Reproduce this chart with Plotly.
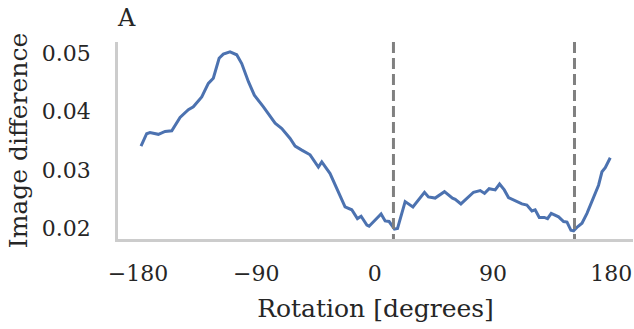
import plotly.graph_objects as go

rotation = [-177.7, -173.4, -170.9, -164.5, -159.4, -154.3, -148.0, -141.7, -137.9, -131.5,
            -126.5, -122.7, -118.3, -115.1, -110.0, -104.9, -101.1, -96.0, -91.5, -89.6,
            -84.6, -75.7, -70.6, -64.3, -60.5, -55.4, -49.1, -42.8, -40.2, -33.9,
            -27.5, -22.5, -17.4, -13.1, -10.3, -5.9, -4.2, 4.9, 8.0, 11.0,
            15.1, 17.4, 23.2, 29.1, 37.9, 40.9, 46.0, 53.1, 59.2, 61.3,
            65.6, 75.2, 80.3, 83.6, 87.1, 91.7, 95.0, 98.6, 101.8, 106.9,
            112.0, 115.8, 119.6, 122.1, 125.2, 129.0, 131.5, 134.3, 139.9, 143.7,
            146.3, 149.3, 151.3, 154.3, 157.7, 161.5, 166.5, 170.3, 172.9, 175.4, 179.2]
difference = [0.0341, 0.0362, 0.0364, 0.0361, 0.0366, 0.0367, 0.0390, 0.0403, 0.0408, 0.0425,
              0.0448, 0.0457, 0.0491, 0.0498, 0.0502, 0.0497, 0.0482, 0.0451, 0.0428, 0.0423,
              0.0408, 0.0380, 0.0371, 0.0354, 0.0341, 0.0334, 0.0326, 0.0305, 0.0314, 0.0294,
              0.0263, 0.0237, 0.0232, 0.0217, 0.0221, 0.0206, 0.0204, 0.0225, 0.0213, 0.0212,
              0.0199, 0.0200, 0.0246, 0.0237, 0.0262, 0.0254, 0.0252, 0.0263, 0.0252, 0.0250,
              0.0242, 0.0262, 0.0265, 0.0260, 0.0268, 0.0266, 0.0276, 0.0266, 0.0253, 0.0247,
              0.0242, 0.0240, 0.0230, 0.0232, 0.0219, 0.0219, 0.0217, 0.0226, 0.0220, 0.0212,
              0.0211, 0.0197, 0.0196, 0.0203, 0.0209, 0.0226, 0.0253, 0.0274, 0.0297, 0.0304, 0.0321]
marker_rotations = [14.3, 152.0]
x_ticks = [-180, -90, 0, 90, 180]
x_tick_text = ["\u2212180", "\u221290", "0", "90", "180"]
y_ticks = [0.02, 0.03, 0.04, 0.05]
y_tick_text = ["0.02", "0.03", "0.04", "0.05"]

font = "DejaVu Serif"
text_color = "#262626"
fig = go.Figure()
fig.add_trace(go.Scatter(x=rotation, y=difference, mode="lines",
                         line=dict(color="#4C72B0", width=3), showlegend=False))
for r in marker_rotations:
    fig.add_shape(type="line", xref="x", yref="paper", x0=r, x1=r, y0=1, y1=0,
                  line=dict(color="#808080", width=3, dash="11px,5px"))

fig.update_layout(
    width=634, height=329,
    margin=dict(l=118, r=1, t=42, b=90),
    paper_bgcolor="white", plot_bgcolor="white",
    font=dict(family=font, color=text_color),
    title=dict(text="A", x=0, xref="paper", xanchor="left", y=0.945, yref="container",
               yanchor="middle", font=dict(family=font, size=24, color=text_color)),
)
fig.update_xaxes(range=[-195.2, 196.5], tickvals=x_ticks, ticktext=x_tick_text,
                 showgrid=False, zeroline=False, showline=True, linecolor="#cccccc", linewidth=2.5,
                 ticks="outside", ticklen=13, tickcolor="rgba(0,0,0,0)",
                 tickfont=dict(size=22, family=font, color=text_color),
                 title=dict(text="Rotation [degrees]", font=dict(size=25, family=font, color=text_color), standoff=15))
fig.update_yaxes(range=[0.01821, 0.05188], tickvals=y_ticks, ticktext=y_tick_text,
                 showgrid=False, zeroline=False, showline=True, linecolor="#cccccc", linewidth=2.5,
                 ticks="outside", ticklen=20, tickcolor="rgba(0,0,0,0)",
                 tickfont=dict(size=22, family=font, color=text_color),
                 title=dict(text="Image difference", font=dict(size=25, family=font, color=text_color), standoff=8))
fig.write_html("out.html")
